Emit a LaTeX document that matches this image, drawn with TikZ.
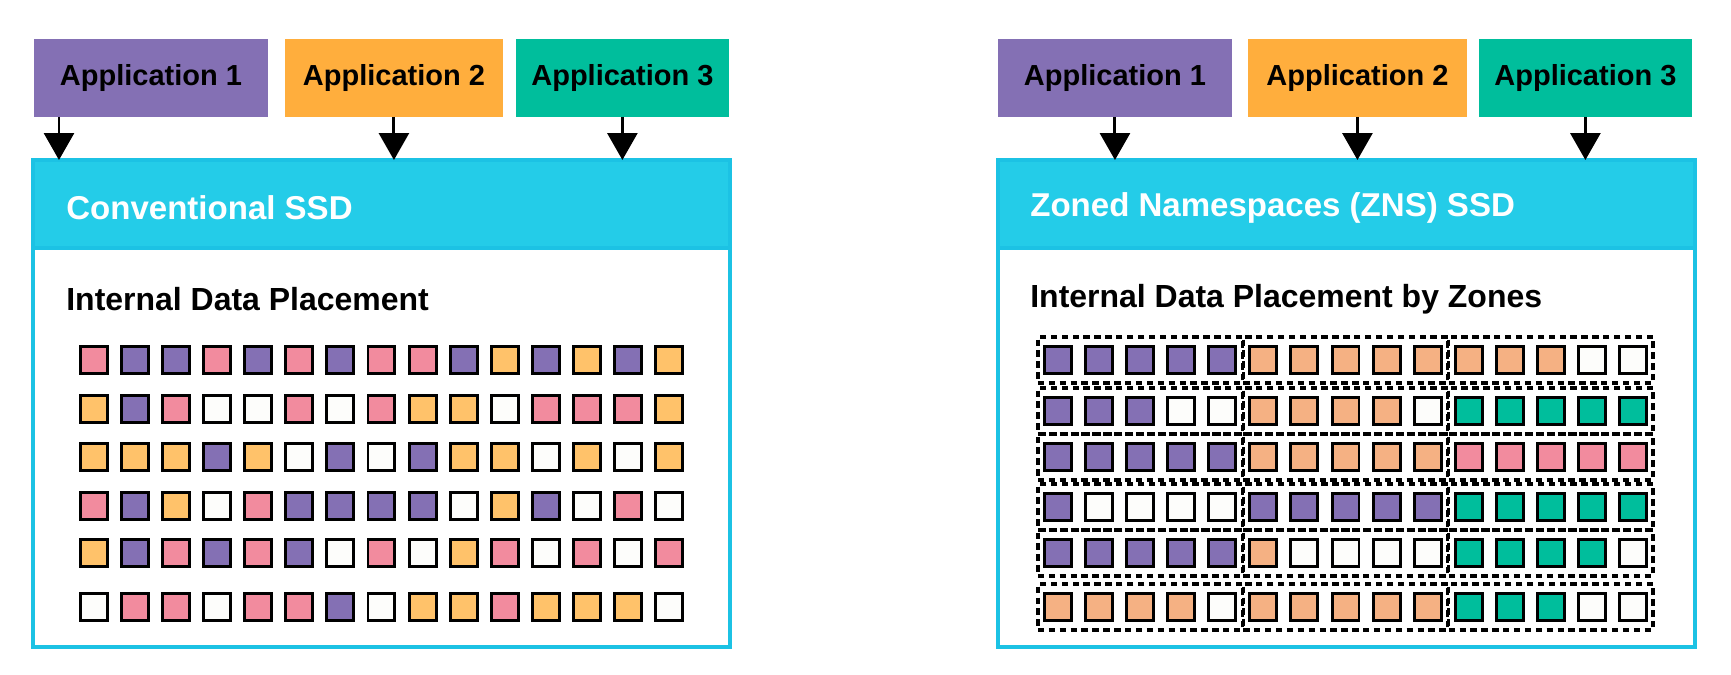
\documentclass[tikz,border=0pt]{standalone}
\usepackage{fontspec}
\setmainfont{Liberation Sans}
\usetikzlibrary{arrows.meta,positioning}
\definecolor{pur}{HTML}{8470B4}
\definecolor{pnk}{HTML}{F28B9E}
\definecolor{org}{HTML}{FFC26A}
\definecolor{pch}{HTML}{F5B183}
\definecolor{tel}{HTML}{00BE9C}
\definecolor{wht}{HTML}{FDFDFB}
\definecolor{apporange}{HTML}{FFAE3D}
\definecolor{ssdcyan}{HTML}{24CCE8}
\definecolor{ssdedge}{HTML}{1CC2E4}

\begin{document}
\begin{tikzpicture}[x=0.02cm,y=-0.02cm,
    app/.style ={inner sep=0, outer sep=0, minimum height=1.56cm, font=\fontsize{16.5}{18}\selectfont\bfseries},
    feed/.style ={line width=1.7pt, -{Triangle[width=0.6cm,length=0.54cm]}},
    header/.style ={anchor=north west, draw=ssdedge, fill=ssdcyan, line width=2.2pt, outer sep=0, inner sep=0, minimum width=13.94cm, minimum height=1.76cm},
    body/.style ={draw=ssdedge, fill=white, line width=2.2pt, outer sep=0, inner sep=0, minimum width=13.94cm, minimum height=7.98cm},
    title/.style ={anchor=west, inner sep=0, text=white, font=\fontsize{18.8}{21}\selectfont\bfseries},
    caption/.style ={anchor=west, inner sep=0, font=\fontsize{18.2}{20}\selectfont\bfseries},
    cell/.style ={draw=black, line width=1.7pt, inner sep=0, minimum size=0.54cm},
    zone/.style ={draw=black, line width=2pt, dash pattern=on 3.6pt off 2.6pt, inner sep=0, minimum width=4.09cm, minimum height=0.92cm}]
   \useasboundingbox (0,0) rectangle (1731,675);

   % conventional SSD
   \node[app,fill=pur,anchor=north west,minimum width=4.68cm] (a1L) at (34,39) {Application 1};
   \node[app,fill=apporange,minimum width=4.36cm,right=0.34cm of a1L] (a2L) {Application 2};
   \node[app,fill=tel,minimum width=4.26cm,right=0.26cm of a2L] (a3L) {Application 3};

   \node[body,anchor=north west] (bodyL) at (33,248) {};
   \node[header] (ssdL) at (33,160) {};
   \node[title] (tL) at ([xshift=0.66cm,yshift=-0.07cm]ssdL.west) {Conventional SSD};
   \node[caption] (cL) at ([xshift=0.66cm,yshift=-1.02cm]bodyL.north west) {Internal Data Placement};

   \draw[feed] ([xshift=0.5cm]a1L.south west) -- ([xshift=0.5cm]a1L.south west |- ssdL.north);
   \draw[feed] (a2L.south) -- (a2L.south |- ssdL.north);
   \draw[feed] (a3L.south) -- (a3L.south |- ssdL.north);

   \foreach \yy/\cells [count=\r] in {
       360/{pnk,pur,pur,pnk,pur,pnk,pur,pnk,pnk,pur,org,pur,org,pur,org},
       409/{org,pur,pnk,wht,wht,pnk,wht,pnk,org,org,wht,pnk,pnk,pnk,org},
       457/{org,org,org,pur,org,wht,pur,wht,pur,org,org,wht,org,wht,org},
       506/{pnk,pur,org,wht,pnk,pur,pur,pur,pur,wht,org,pur,wht,pnk,wht},
       553/{org,pur,pnk,pur,pnk,pur,wht,pnk,wht,org,pnk,wht,pnk,wht,pnk},
       607/{wht,pnk,pnk,wht,pnk,pnk,pur,wht,org,org,pnk,org,org,org,wht}}
     \foreach \clr [count=\c] in \cells
       \node[cell,fill=\clr] (sqL-\r-\c) at ({94+41.07*(\c-1)},\yy) {};

   % zoned namespaces SSD
   \node[app,fill=pur,anchor=north west,minimum width=4.68cm] (a1R) at (998,39) {Application 1};
   \node[app,fill=apporange,minimum width=4.38cm,right=0.32cm of a1R] (a2R) {Application 2};
   \node[app,fill=tel,minimum width=4.26cm,right=0.24cm of a2R] (a3R) {Application 3};

   \node[body,anchor=north west] (bodyR) at (998,248) {};
   \node[header] (ssdR) at (998,160) {};
   \node[title] (tR) at ([xshift=0.64cm,yshift=-0.07cm]ssdR.west) {Zoned Namespaces (ZNS) SSD};
   \node[caption] (cR) at ([xshift=0.64cm,yshift=-1.02cm]bodyR.north west) {Internal Data Placement by Zones};

   \draw[feed] (a1R.south) -- (a1R.south |- ssdR.north);
   \draw[feed] (a2R.south) -- (a2R.south |- ssdR.north);
   \draw[feed] (a3R.south) -- (a3R.south |- ssdR.north);

   \foreach \yy/\cells [count=\r] in {
       360/{pur,pur,pur,pur,pur,pch,pch,pch,pch,pch,pch,pch,pch,wht,wht},
       411/{pur,pur,pur,wht,wht,pch,pch,pch,pch,wht,tel,tel,tel,tel,tel},
       457/{pur,pur,pur,pur,pur,pch,pch,pch,pch,pch,pnk,pnk,pnk,pnk,pnk},
       507/{pur,wht,wht,wht,wht,pur,pur,pur,pur,pur,tel,tel,tel,tel,tel},
       553/{pur,pur,pur,pur,pur,pch,wht,wht,wht,wht,tel,tel,tel,tel,wht},
       607/{pch,pch,pch,pch,wht,pch,pch,pch,pch,pch,tel,tel,tel,wht,wht}} {
     \foreach \k in {1,2,3}
       \node[zone] (zR-\r-\k) at ({1058+41.07*(5*\k-3)},\yy) {};
     \foreach \clr [count=\c] in \cells
       \node[cell,fill=\clr] (sqR-\r-\c) at ({1058+41.07*(\c-1)},\yy) {};
   }
 \end{tikzpicture}
\end{document}
